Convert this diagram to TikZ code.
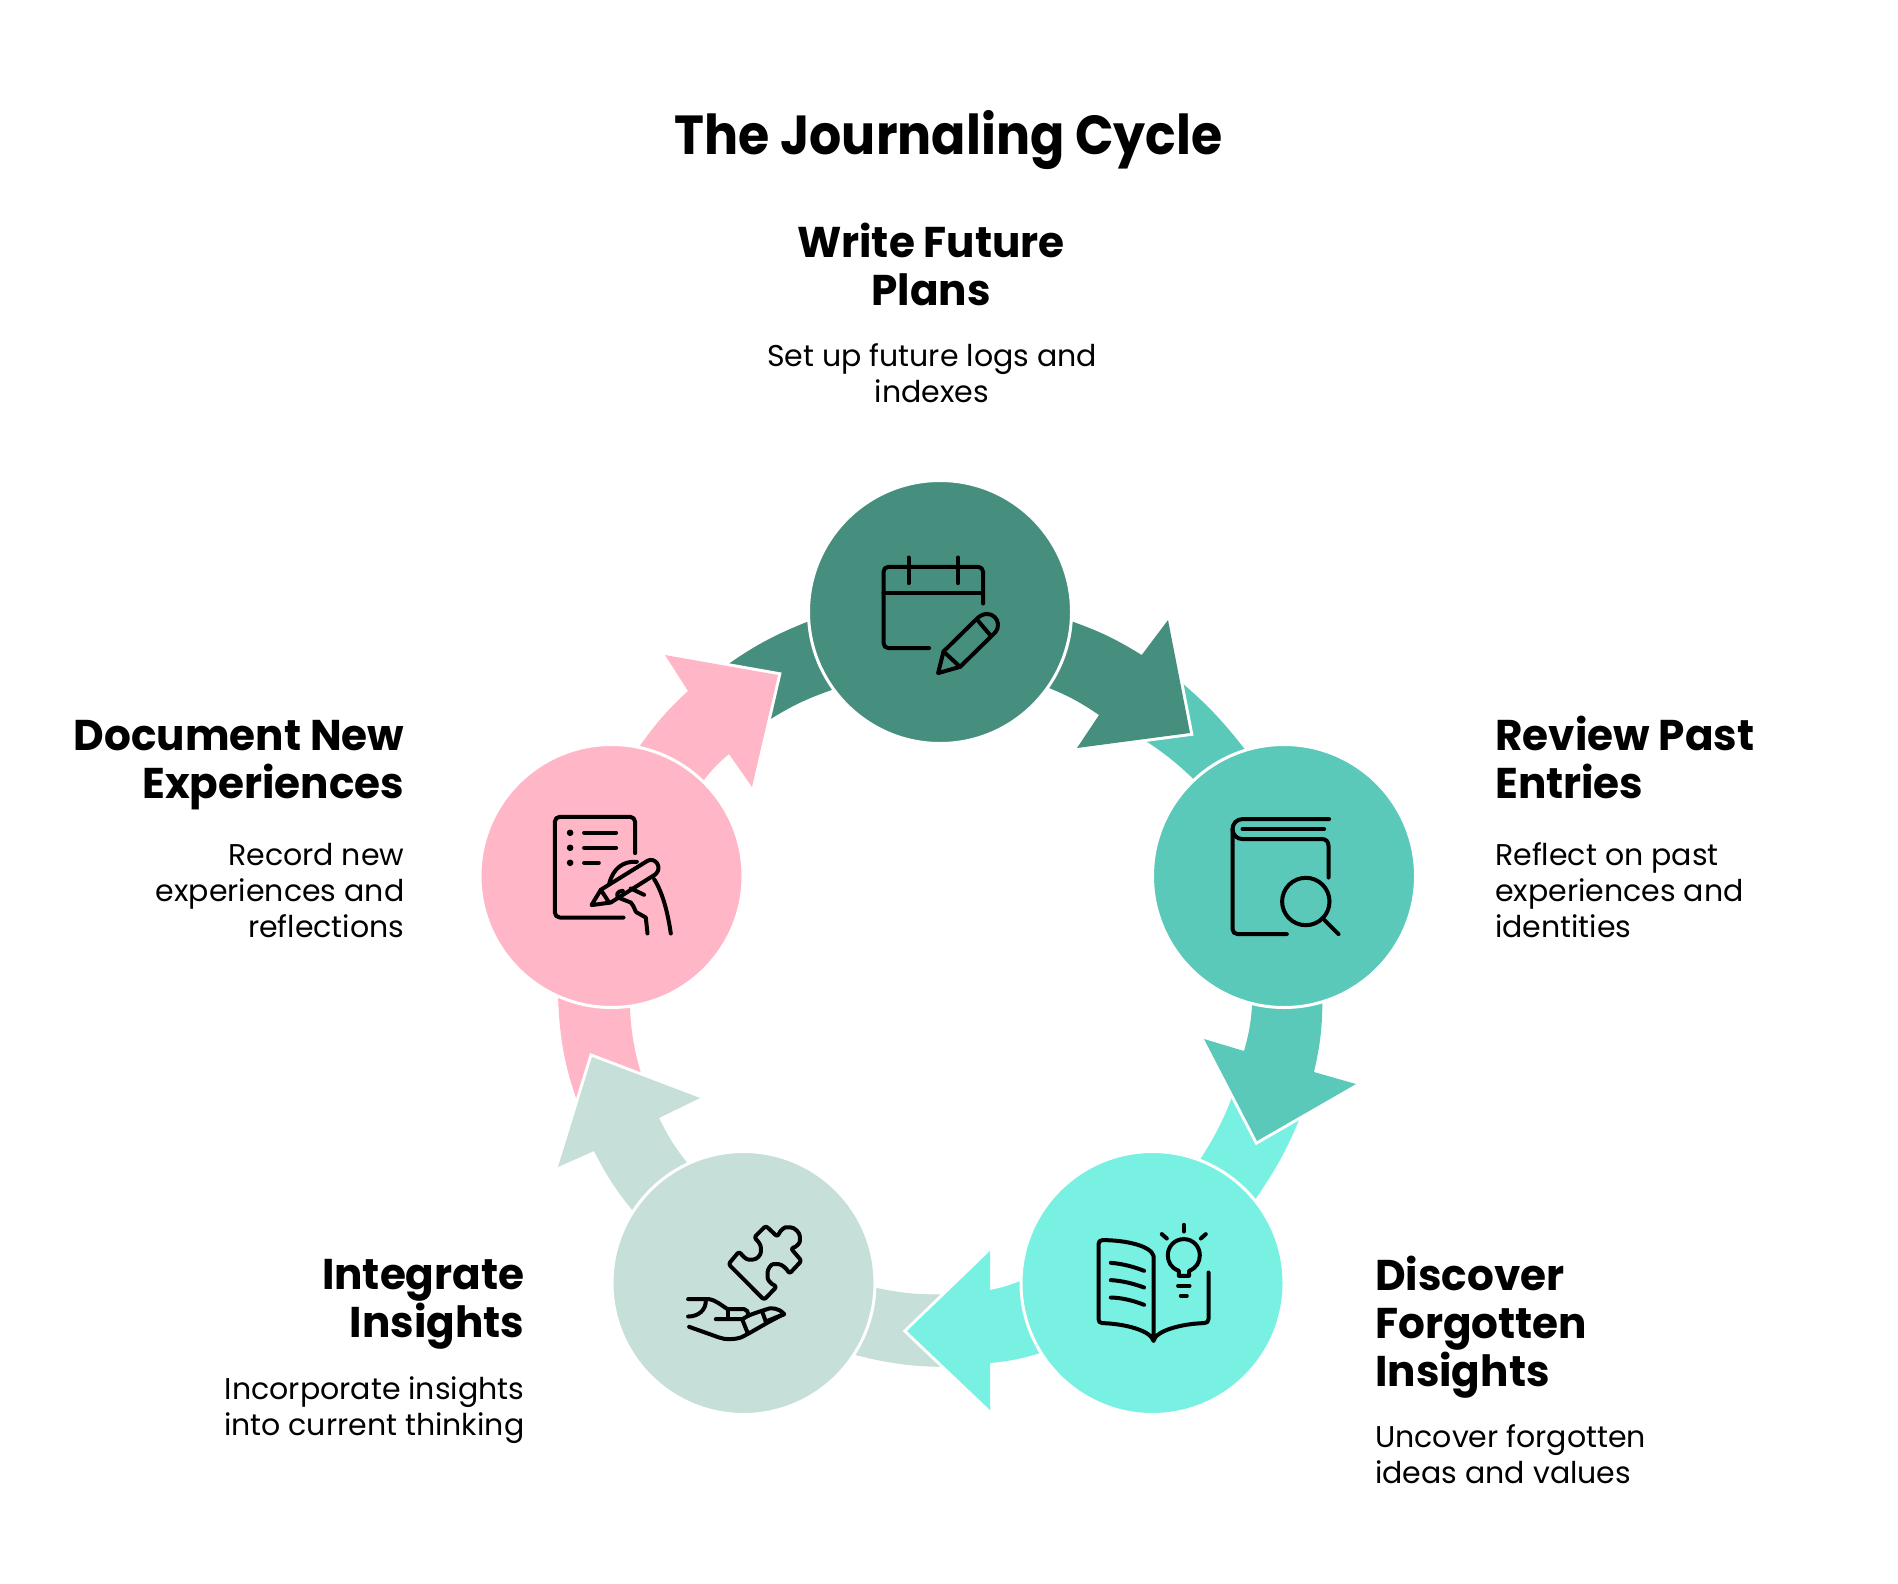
\documentclass[tikz,border=0pt]{standalone}
\usepackage{fontspec}
\setmainfont{Poppins}
\newfontfamily\titlefam[FakeStretch=0.92]{Poppins}
\newfontfamily\headfam[FakeStretch=0.98]{Poppins}
\definecolor{cdark}{HTML}{468E7E}
\definecolor{cteal}{HTML}{5AC9B9}
\definecolor{caqua}{HTML}{78F0E2}
\definecolor{cpale}{HTML}{C6DFD9}
\definecolor{cpink}{HTML}{FFB6C7}
\pgfdeclarelayer{bg}
\pgfsetlayers{bg,main}
\tikzset{
  hub/.style={circle,minimum size=263pt,inner sep=0pt,outer sep=0pt,draw=white,line width=3pt},
  fat/.style={fill=#1,preaction={draw=white,line width=6pt,miter limit=10}},
  band/.style={fill=#1},
  icon/.style={draw=black,line width=4pt,line cap=round,line join=round,rounded corners=5pt},
  iconsoft/.style={draw=black,line width=4pt,line cap=round,line join=round},
  titletext/.style={inner sep=0pt,font=\titlefam\fontsize{55}{66}\selectfont\bfseries},
  headtext/.style={inner sep=0pt,font=\headfam\fontsize{43}{48}\selectfont\bfseries},
  bodytext/.style={inner sep=0pt,font=\fontsize{30}{36}\selectfont},
}
\begin{document}
\begin{tikzpicture}[x=1pt,y=-1pt]
\useasboundingbox (0,0) rectangle (1898,1584);
% hubs
\node[hub,fill=cdark] (nT) at (940,612) {};
\node[hub,fill=cteal] (nR) at (1284,876) {};
\node[hub,fill=caqua] (nD) at (1152.5,1283) {};
\node[hub,fill=cpale] (nB) at (743.5,1283) {};
\node[hub,fill=cpink] (nL) at (611.5,876) {};
\begin{pgfonlayer}{bg}
\fill[white] (0,0) rectangle (1898,1584);
% bands running from each hub back under the arriving arrowhead
\path[band=cteal] (nR.107.4) to[bend right=6] (1175,677) -- (1136,735) to[bend left=6] (nR.133.5) -- cycle;
\path[band=caqua] (nD.39.1) to[bend right=6] (1302,1113) -- (1234,1092) to[bend left=6] (nD.69.9) -- cycle;
\path[band=cpale] (nB.-33.3) to[bend right=7] (952,1367) -- (950,1294) to[bend left=7] (nB.-2) -- cycle;
\path[band=cpink] (nL.-114) to[bend right=9] (581,1112) -- (643,1080) to[bend left=7] (nL.-82.5) -- cycle;
\path[band=cdark] (nT.184.7) to[bend right=7] (720,670) -- (763,724) to[bend left=7] (nT.216.2) -- cycle;
% arrows
\path[fat=cdark] (nT.-4.7) to[bend left=6] (1141.7,655) -- (1168,620) -- (1190,733) -- (1077,748) -- (1099,715) to[bend right=6] (nT.-35.6) -- cycle;
\path[fat=cteal] (nR.-73.2) to[bend left=6] (1314,1072) -- (1356,1084) -- (1257,1141) -- (1204,1039) -- (1244,1051) to[bend right=6] (nR.-104.2) -- cycle;
\path[fat=caqua] (nD.-148.3) to[bend left=6] (990,1363) -- (990,1410) -- (907,1331) -- (990,1251) -- (990,1290) to[bend right=5] (nD.179.6) -- cycle;
\path[fat=cpale] (nB.147) to[bend left=6] (594,1151) -- (558,1167) -- (592,1057) -- (700,1098) -- (659,1118) to[bend right=6] (nB.115.8) -- cycle;
\path[fat=cpink] (nL.78) to[bend left=6] (688,691) -- (665,655) -- (778,675) -- (752,787) -- (729,754) to[bend right=6] (nL.46.7) -- cycle;
\end{pgfonlayer}
\begin{scope}[shift={(0.8,0.8)}]
% calendar icon
\draw[icon] (982.3,602.7) -- (982.3,566) -- (882.7,566) -- (882.7,647.3) -- (928.3,647.3);
\draw[iconsoft] (882.7,592.3) -- (982.3,592.3);
\draw[iconsoft] (907.7,556.7) -- (907.7,582.3);
\draw[iconsoft] (957.3,556.7) -- (957.3,582.3);
\draw[iconsoft] (942.7,650.7) -- (976,618) .. controls (989,605) and (1004,621) .. (994,632) -- (959.3,666) -- (937.3,672.3) -- cycle;
\draw[iconsoft] (942.7,650.7) -- (959.3,666);
\draw[iconsoft] (977.3,620) -- (990,635);
% book and lens icon
\draw[iconsoft] (1328.3,818.3) -- (1241.7,818.3) .. controls (1236,818.3) and (1231.7,822.8) .. (1231.7,828.3) .. controls (1231.7,833.8) and (1236,838.3) .. (1241.7,838.3) -- (1321.7,838.3) .. controls (1325,838.3) and (1327.7,841) .. (1327.7,845) -- (1327.7,876.7);
\draw[iconsoft] (1241.7,828.3) -- (1323.3,828.3);
\draw[icon] (1231.7,828.3) -- (1231.7,933.3) -- (1286,933.3);
\draw[iconsoft] (1305,900.7) circle[radius=23.7pt];
\draw[iconsoft] (1321.7,917.3) -- (1337.7,933.3);
% open book and bulb icon
\draw[iconsoft] (1152.7,1340) -- (1152.7,1255) .. controls (1150,1245) and (1125,1239.3) .. (1101.7,1239.3) .. controls (1099,1239.3) and (1097.7,1241) .. (1097.7,1243.3) -- (1097.7,1318.3) .. controls (1097.7,1321) and (1099,1322.3) .. (1101.7,1322.3) .. controls (1125,1323) and (1150,1330) .. (1152.7,1340) .. controls (1155,1330) and (1180,1323) .. (1203.3,1322.3) .. controls (1206,1322.3) and (1207.7,1321) .. (1207.7,1318.3) -- (1207.7,1271.7);
\draw[iconsoft] (1110,1262) .. controls (1122,1263) and (1133,1266) .. (1143.3,1270);
\draw[iconsoft] (1110,1279.3) .. controls (1122,1280) and (1133,1283) .. (1143.3,1286.7);
\draw[iconsoft] (1110,1296.7) .. controls (1122,1297) and (1133,1300) .. (1143.3,1304);
\draw[iconsoft] (1178,1270) .. controls (1170,1267) and (1167,1261) .. (1167,1254.3) .. controls (1167,1245.5) and (1174,1238.3) .. (1183,1238.3) .. controls (1192,1238.3) and (1199,1245.5) .. (1199,1254.3) .. controls (1199,1261) and (1196,1267) .. (1188.3,1270) -- (1188.3,1275) -- (1178,1275) -- cycle;
\draw[iconsoft] (1177.3,1285) -- (1188.7,1285);
\draw[iconsoft] (1180,1295) -- (1186,1295);
\draw[iconsoft] (1183,1224) -- (1183,1230.7);
\draw[iconsoft] (1161,1233.3) -- (1166,1237.7);
\draw[iconsoft] (1205,1233.3) -- (1200,1237.7);
% puzzle and hand icon
\draw[iconsoft,rounded corners=2.5pt] (765,1225) -- (776.7,1236) .. controls (780,1228) and (785,1226.5) .. (787,1226.5) .. controls (794,1226.5) and (799,1232) .. (799,1238) .. controls (799,1242) and (796,1246) .. (790,1247.5) -- (800.7,1260) -- (788.5,1273) .. controls (786,1268) and (781,1263.3) .. (775,1263.3) .. controls (770,1263.3) and (766.7,1269) .. (766.7,1274) .. controls (766.7,1279) and (770,1283) .. (776,1285.7) -- (763.3,1299) -- (727.7,1263.3) -- (738.3,1250.7) .. controls (741,1254) and (745,1258.7) .. (750,1258.7) .. controls (756,1258.7) and (760,1254) .. (760,1249) .. controls (760,1244) and (757,1240) .. (753.3,1236.7) -- cycle;
\draw[iconsoft] (687.3,1298.3) -- (708.3,1298.3) .. controls (714,1299) and (720,1304) .. (726.7,1308.3) -- (743.3,1308.3) .. controls (746,1308.3) and (747.3,1311) .. (747.3,1315) .. controls (752,1313) and (758,1311) .. (763.3,1309.3) .. controls (770,1306) and (778,1307) .. (783.3,1313.3) .. controls (765,1322) and (752,1331) .. (740,1336.7) .. controls (732,1339) and (725,1339) .. (718.3,1336.7) -- (688.3,1326);
\draw[iconsoft] (705,1300) .. controls (705,1309) and (698,1315.7) .. (687.3,1315.7);
\draw[iconsoft] (726.7,1308.3) -- (726.7,1318.3);
\draw[iconsoft] (715,1318.3) -- (741.7,1318.3) -- (747.3,1315);
\draw[iconsoft] (741.7,1319.3) -- (746.7,1331.7);
\draw[iconsoft] (761.7,1311.7) -- (765,1320.7);
\draw[iconsoft] (765,1320.7) -- (783.3,1313.3);
% page and writing hand icon
\draw[icon] (634.3,852.3) -- (634.3,816) -- (554,816) -- (554,916.7) -- (622.7,916.7);
\fill (569.3,832) circle[radius=3.3pt];
\fill (569.3,847) circle[radius=3.3pt];
\fill (569.3,862) circle[radius=3.3pt];
\draw[iconsoft] (583.3,832) -- (615.3,832);
\draw[iconsoft] (583.3,847) -- (615.3,847);
\draw[iconsoft] (583.3,862) -- (598,862);
\draw[iconsoft] (590.7,904.3) -- (600,889) -- (646.7,860) .. controls (654,856) and (662,866) .. (655,873.3) -- (610,901.7) -- cycle;
\draw[iconsoft] (600,889) -- (608.3,901.7);
\draw[iconsoft] (608.3,883.3) .. controls (612,868) and (622,860) .. (636,861);
\draw[iconsoft] (630,887.7) -- (643.3,894);
\draw[iconsoft] (622,890) .. controls (616,890) and (615,895) .. (618,897) -- (630,901.7) .. controls (634,906) and (634,911) .. (636,911.7) -- (645,916.7) -- (646.7,932.7);
\draw[iconsoft] (653.3,878.3) .. controls (662,892) and (667,912) .. (670,932.7);
\end{scope}
% texts (a multi-line node's base anchor sits on its last line)
\node[titletext,anchor=base] (title) at (948.5,154) {The Journaling Cycle};
\node[headtext,align=center,anchor=base] (h1) at (931,305) {Write Future\\Plans};
\node[bodytext,align=center,anchor=base] (b1) at (932,402) {Set up future logs and\\indexes};
\node[headtext,align=left,anchor=base west] (h2) at (1495,798) {Review Past\\Entries};
\node[bodytext,align=left,anchor=base west] (b2) at (1495,937) {Reflect on past\\experiences and\\identities};
\node[headtext,align=left,anchor=base west] (h3) at (1375,1386) {Discover\\Forgotten\\Insights};
\node[bodytext,align=left,anchor=base west] (b3) at (1375,1483) {Uncover forgotten\\ideas and values};
\node[headtext,align=right,anchor=base east] (h4) at (524.5,1337) {Integrate\\Insights};
\node[bodytext,align=right,anchor=base east] (b4) at (524.5,1435) {Incorporate insights\\into current thinking};
\node[headtext,align=right,anchor=base east] (h5) at (404.5,798) {Document New\\Experiences};
\node[bodytext,align=right,anchor=base east] (b5) at (404.5,937) {Record new\\experiences and\\reflections};
\end{tikzpicture}
\end{document}
